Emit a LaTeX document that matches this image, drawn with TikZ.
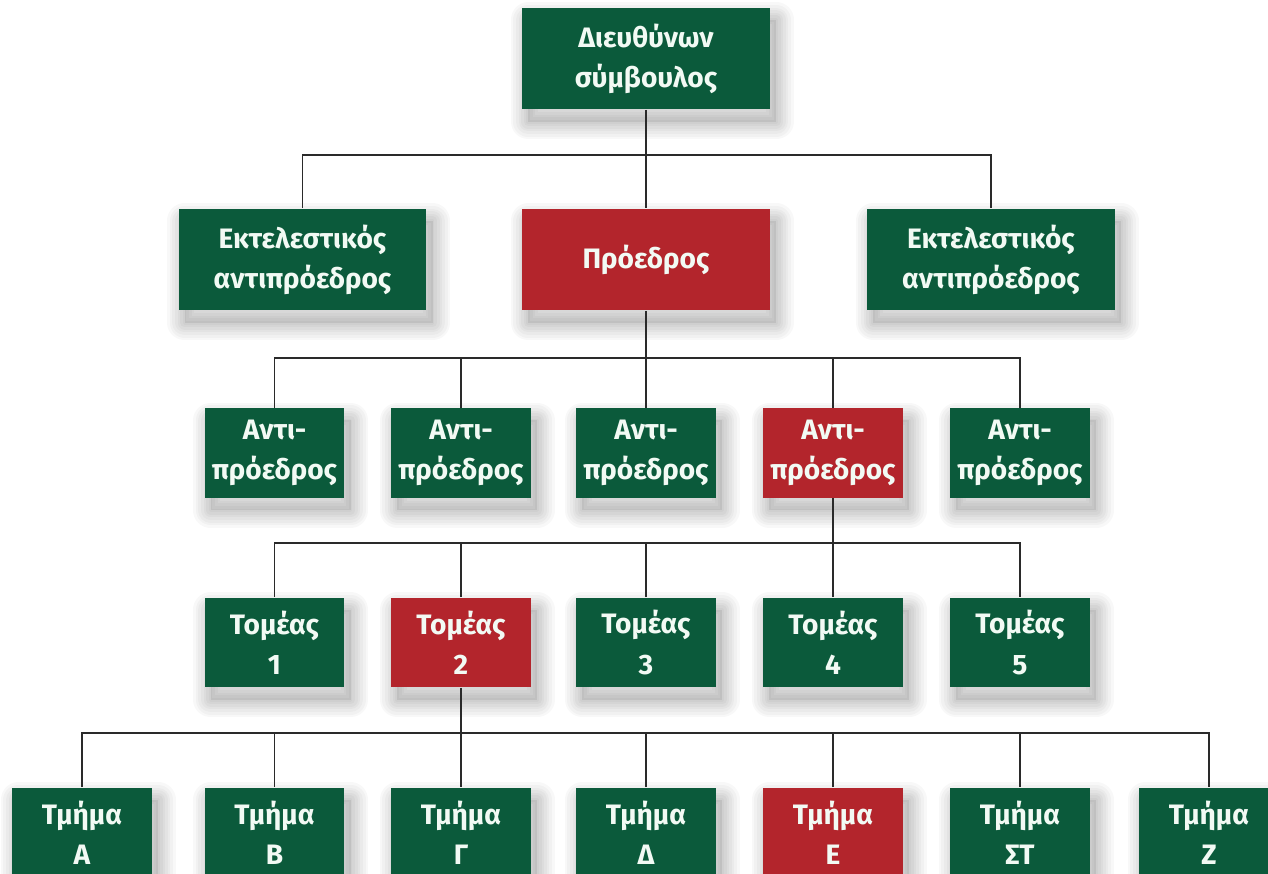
\documentclass[tikz,border=0pt]{standalone}
\usepackage{fontspec}
\setmainfont{Fira Sans}
\definecolor{boardgreen}{HTML}{0B5A3B}
\definecolor{boardred}{HTML}{B3252C}
\definecolor{boxtext}{HTML}{F2FAF4}
\definecolor{linkgray}{HTML}{2A2A2A}

\begin{document}
\begin{tikzpicture}[x=0.02cm,y=0.02cm,
  % soft drop shadow: a translucent core and rings that fade outwards
  shadowshift/.style={transform canvas={xshift=3.5pt, yshift=-7pt}},
  shadowcore/.style={preaction={fill=black, fill opacity=0.07, shadowshift}},
  shadowring/.style={preaction={draw=black, draw opacity=0.028,
      line width=#1, line join=round, shadowshift}},
  softshadow/.style={shadowcore, shadowring=2pt, shadowring=5pt,
      shadowring=8pt, shadowring=11pt, shadowring=14pt, shadowring=17pt,
      shadowring=20pt},
  unit/.style={rectangle, inner sep=0pt, text=boxtext, align=center,
    font=\bfseries\fontsize{16}{22.8}\selectfont, softshadow},
  widebox/.style={unit, minimum width=4.96cm, minimum height=2.04cm},
  smallbox/.style={unit, minimum width=2.8cm, minimum height=1.8cm},
  gfill/.style={fill=boardgreen},
  rfill/.style={fill=boardred},
  link/.style={draw=linkgray, line width=0.85pt}]

\path[use as bounding box, fill=white] (0,0) rectangle (1268,-874);
\clip (0,0) rectangle (1268,-874);

% top level
\node[widebox, gfill] (ceo) at (646,-58.5) {Διευθύνων\\σύμβουλος};

% second level
\node[widebox, gfill] (ev1) at (302.5,-259.5) {Εκτελεστικός\\αντιπρόεδρος};
\node[widebox, rfill] (pres) at (646,-259.5) {Πρόεδρος};
\node[widebox, gfill] (ev2) at (991,-259.5) {Εκτελεστικός\\αντιπρόεδρος};

% vice presidents
\node[smallbox, gfill] (vp1) at (274.5,-453) {Αντι-\\πρόεδρος};
\node[smallbox, gfill] (vp2) at (461,-453) {Αντι-\\πρόεδρος};
\node[smallbox, gfill] (vp3) at (646,-453) {Αντι-\\πρόεδρος};
\node[smallbox, rfill] (vp4) at (833,-453) {Αντι-\\πρόεδρος};
\node[smallbox, gfill] (vp5) at (1020,-453) {Αντι-\\πρόεδρος};

% sectors
\node[smallbox, gfill] (sec1) at (274.5,-642.5) {Τομέας\\1};
\node[smallbox, rfill] (sec2) at (461,-642.5) {Τομέας\\2};
\node[smallbox, gfill] (sec3) at (646,-642.5) {Τομέας\\3};
\node[smallbox, gfill] (sec4) at (833,-642.5) {Τομέας\\4};
\node[smallbox, gfill] (sec5) at (1020,-642.5) {Τομέας\\5};

% departments
\node[smallbox, gfill] (depA) at (82,-832.5) {Τμήμα\\Α};
\node[smallbox, gfill] (depB) at (274.5,-832.5) {Τμήμα\\Β};
\node[smallbox, gfill] (depG) at (461,-832.5) {Τμήμα\\Γ};
\node[smallbox, gfill] (depD) at (646,-832.5) {Τμήμα\\Δ};
\node[smallbox, rfill] (depE) at (833,-832.5) {Τμήμα\\Ε};
\node[smallbox, gfill] (depST) at (1020,-832.5) {Τμήμα\\ΣΤ};
\node[smallbox, gfill] (depZ) at (1209,-832.5) {Τμήμα\\Ζ};

% junctions of the horizontal bars
\coordinate (j1) at (646,-155);
\coordinate (j2) at (646,-358);
\coordinate (j3) at (833,-543);
\coordinate (j4) at (461,-733);

% connectors
\draw[link] (ceo) -- (pres);
\draw[link] (ev1.north) |- (j1) -| (ev2.north);

\draw[link] (pres) -- (vp3);
\draw[link] (vp1.north) |- (j2) -| (vp5.north);
\draw[link] (vp2.north) -- (vp2.north |- j2);
\draw[link] (vp4.north) -- (vp4.north |- j2);

\draw[link] (vp4) -- (sec4);
\draw[link] (sec1.north) |- (j3) -| (sec5.north);
\draw[link] (sec2.north) -- (sec2.north |- j3);
\draw[link] (sec3.north) -- (sec3.north |- j3);

\draw[link] (sec2) -- (depG);
\draw[link] (depA.north) |- (j4) -| (depZ.north);
\draw[link] (depB.north) -- (depB.north |- j4);
\draw[link] (depD.north) -- (depD.north |- j4);
\draw[link] (depE.north) -- (depE.north |- j4);
\draw[link] (depST.north) -- (depST.north |- j4);
\end{tikzpicture}
\end{document}
